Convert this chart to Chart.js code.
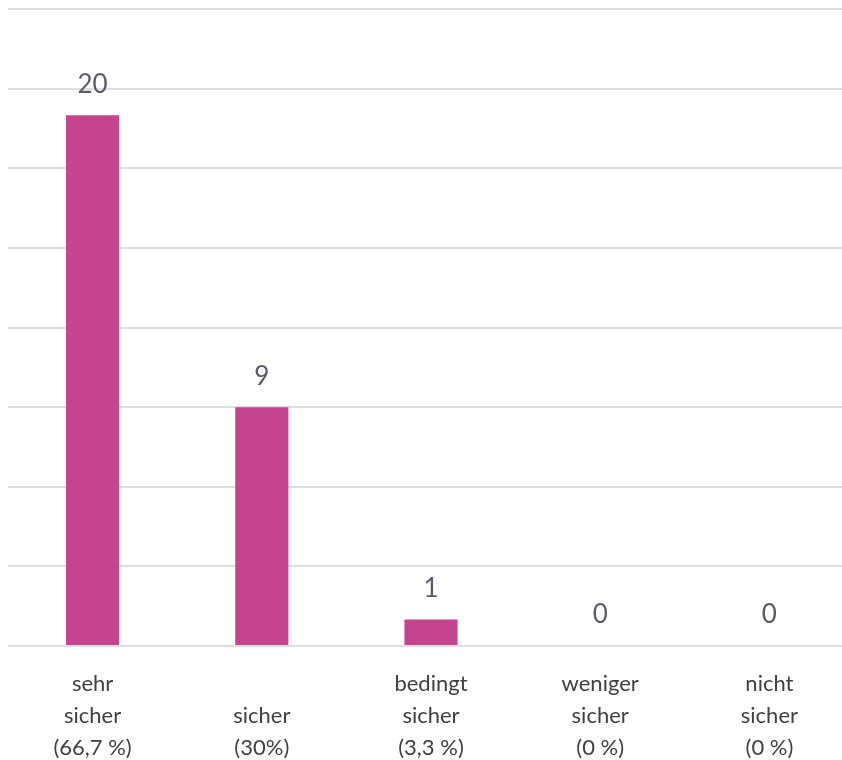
<!DOCTYPE html>
<html>
<head>
<meta charset="utf-8">
<script src="https://cdn.jsdelivr.net/npm/chart.js@4/dist/chart.umd.min.js"></script>
<style>
  html, body { margin: 0; padding: 0; background: #fff; overflow: hidden; }
  #wrap { width: 842px; height: 760px; overflow: hidden; }
</style>
</head>
<body>
<div id="wrap"><canvas id="chart" width="854" height="760"></canvas></div>
<script>
// Werte aus der Grafik
const categories = [
  ['sehr', 'sicher', '(66,7 %)'],
  ['', 'sicher', '(30%)'],
  ['bedingt', 'sicher', '(3,3 %)'],
  ['weniger', 'sicher', '(0 %)'],
  ['nicht', 'sicher', '(0 %)']
];
const counts = [20, 9, 1, 0, 0];

// Zahl über jedem Balken
const valueLabels = {
  id: 'valueLabels',
  afterDatasetsDraw(chart) {
    const { ctx } = chart;
    const meta = chart.getDatasetMeta(0);
    ctx.save();
    ctx.font = '26px Lato';
    ctx.fillStyle = '#5b5b6b';
    ctx.textAlign = 'center';
    ctx.textBaseline = 'middle';
    meta.data.forEach((bar, i) => {
      ctx.fillText(String(counts[i]), bar.x, bar.y - 31);
    });
    ctx.restore();
  }
};

new Chart(document.getElementById('chart'), {
  type: 'bar',
  data: {
    labels: categories,
    datasets: [{
      data: counts,
      backgroundColor: '#c5448e',
      categoryPercentage: 1,
      barPercentage: 0.314
    }]
  },
  options: {
    responsive: false,
    animation: false,
    layout: { padding: { left: 8, top: 9, right: 0, bottom: 0 } },
    plugins: { legend: { display: false }, tooltip: { enabled: false } },
    scales: {
      x: {
        grid: { display: false },
        border: { display: false },
        afterFit(scale) { scale.height = 114; },
        ticks: {
          color: '#404040',
          font: { family: 'Lato', size: 22, lineHeight: 1.4545 },
          padding: 14,
          maxRotation: 0,
          autoSkip: false
        }
      },
      y: {
        min: 0,
        max: 24,
        ticks: { display: false, stepSize: 3 },
        grid: { color: '#dedede', lineWidth: 2, drawTicks: false },
        border: { display: false }
      }
    }
  },
  plugins: [valueLabels]
});
</script>
</body>
</html>
